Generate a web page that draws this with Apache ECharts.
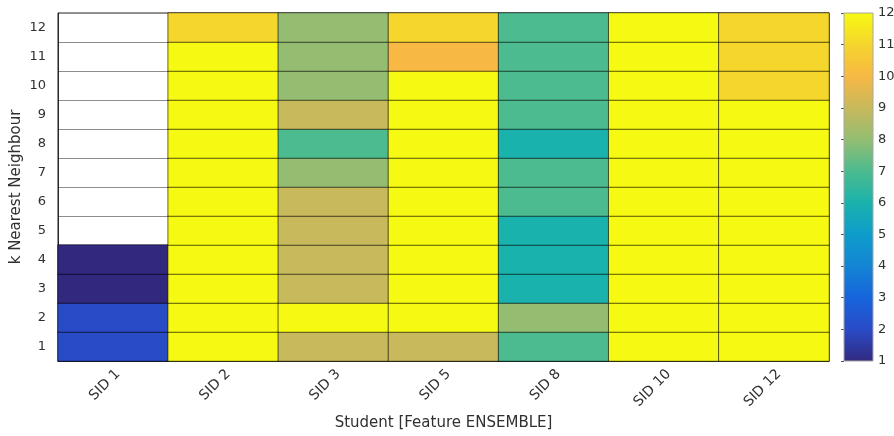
<!DOCTYPE html>
<html>
<head>
<meta charset="utf-8">
<script src="https://cdn.jsdelivr.net/npm/echarts@6/dist/echarts.min.js"></script>
<style>
  html, body { margin: 0; padding: 0; background: #fff; }
  #chart { width: 894px; height: 436px; }
</style>
</head>
<body>
<div id="chart"></div>
<script>
// Students on the x axis, k (number of neighbours) on the y axis
const students = ['SID 1', 'SID 2', 'SID 3', 'SID 5', 'SID 8', 'SID 10', 'SID 12'];
const kValues = ['1', '2', '3', '4', '5', '6', '7', '8', '9', '10', '11', '12'];

// One column per student, listed from k = 1 up to k = 12 (null = no result)
const sid1 = [2, 2, 1, 1, null, null, null, null, null, null, null, null];
const sid2 = [12, 12, 12, 12, 12, 12, 12, 12, 12, 12, 12, 11];
const sid3 = [9, 12, 9, 9, 9, 9, 8, 7, 9, 8, 8, 8];
const sid5 = [9, 12, 12, 12, 12, 12, 12, 12, 12, 12, 10, 11];
const sid8 = [7, 8, 6, 6, 6, 7, 7, 6, 7, 7, 7, 7];
const sid10 = [12, 12, 12, 12, 12, 12, 12, 12, 12, 12, 12, 12];
const sid12 = [12, 12, 12, 12, 12, 12, 12, 12, 12, 11, 11, 11];
const columns = [sid1, sid2, sid3, sid5, sid8, sid10, sid12];

// Colour scale, one stop per integer value 1..12
const colorMin = 1;
const colorMax = 12;
const colorTicks = [1, 2, 3, 4, 5, 6, 7, 8, 9, 10, 11, 12];
const scaleColors = ['#32297f', '#2a4bc6', '#1664dc', '#1484d4', '#0e9ccb', '#1ab2ac',
                     '#4cbb8f', '#94bd72', '#c8b95c', '#f7b844', '#f5d62c', '#f6f912'];

const cells = [];
columns.forEach((col, xi) => {
  col.forEach((v, yi) => {
    if (v !== null) cells.push([xi, yi, v]);
  });
});

const chart = echarts.init(document.getElementById('chart'), null, { renderer: 'canvas' });
const font = 'DejaVu Sans';
const textColor = '#303030';

chart.setOption({
  animation: false,
  backgroundColor: '#fff',
  grid: [
    { left: 58, top: 13, width: 771, height: 348, show: true, borderColor: '#262626', borderWidth: 1,
      backgroundColor: '#fff', containLabel: false, outerBoundsMode: 'none' },
    { left: 844, top: 13, width: 29, height: 348, containLabel: false, outerBoundsMode: 'none' }
  ],
  xAxis: [
    {
      gridIndex: 0,
      type: 'category',
      data: students,
      axisLine: { show: true, lineStyle: { color: '#262626' } },
      axisTick: { show: false },
      splitLine: { show: true, interval: 0, lineStyle: { color: '#8c8c8c', width: 1 } },
      axisLabel: { rotate: 45, interval: 0, margin: 6, verticalAlign: 'top',
                   fontFamily: font, fontSize: 14, color: textColor },
      name: 'Student [Feature ENSEMBLE]',
      nameLocation: 'middle',
      nameGap: 55,
      nameMoveOverlap: false,
      nameTextStyle: { fontFamily: font, fontSize: 15, color: textColor }
    },
    { gridIndex: 1, type: 'value', min: 0, max: 1, show: false }
  ],
  yAxis: [
    {
      gridIndex: 0,
      type: 'category',
      data: kValues,
      axisLine: { show: true, lineStyle: { color: '#262626' } },
      axisTick: { show: false },
      splitLine: { show: true, interval: 0, lineStyle: { color: '#8c8c8c', width: 1 } },
      axisLabel: { interval: 0, margin: 12, fontFamily: font, fontSize: 13, color: textColor },
      name: 'k Nearest Neighbour',
      nameLocation: 'middle',
      nameGap: 34,
      nameRotate: 90,
      nameMoveOverlap: false,
      nameTextStyle: { fontFamily: font, fontSize: 15, color: textColor }
    },
    {
      gridIndex: 1,
      type: 'value',
      position: 'right',
      min: colorMin,
      max: colorMax,
      interval: 1,
      axisLine: { show: false },
      axisTick: { show: true, inside: true, length: 3, lineStyle: { color: '#555' } },
      splitLine: { show: false },
      axisLabel: { margin: 5, fontFamily: font, fontSize: 13, color: textColor,
                   formatter: v => (colorTicks.includes(v) ? String(v) : '') }
    }
  ],
  visualMap: {
    show: false,
    type: 'continuous',
    seriesIndex: 0,
    dimension: 2,
    min: colorMin,
    max: colorMax,
    inRange: { color: scaleColors }
  },
  series: [
    {
      type: 'heatmap',
      xAxisIndex: 0,
      yAxisIndex: 0,
      data: cells,
      itemStyle: { borderColor: 'rgba(0,0,0,0.6)', borderWidth: 1 },
      emphasis: { disabled: true }
    },
    {
      // colour bar drawn along its own value axis
      type: 'custom',
      xAxisIndex: 1,
      yAxisIndex: 1,
      silent: true,
      z: 1,
      data: [[0, colorMin, colorMax]],
      renderItem: (params, api) => {
        const bottom = api.coord([0, api.value(1)]);
        const top = api.coord([1, api.value(2)]);
        const stops = scaleColors.map((c, i) => ({ offset: i / (scaleColors.length - 1), color: c }));
        return {
          type: 'rect',
          shape: { x: bottom[0], y: top[1], width: top[0] - bottom[0], height: bottom[1] - top[1] },
          style: {
            fill: new echarts.graphic.LinearGradient(0, 1, 0, 0, stops),
            stroke: '#a6a6a6',
            lineWidth: 1
          }
        };
      }
    }
  ]
});
</script>
</body>
</html>
